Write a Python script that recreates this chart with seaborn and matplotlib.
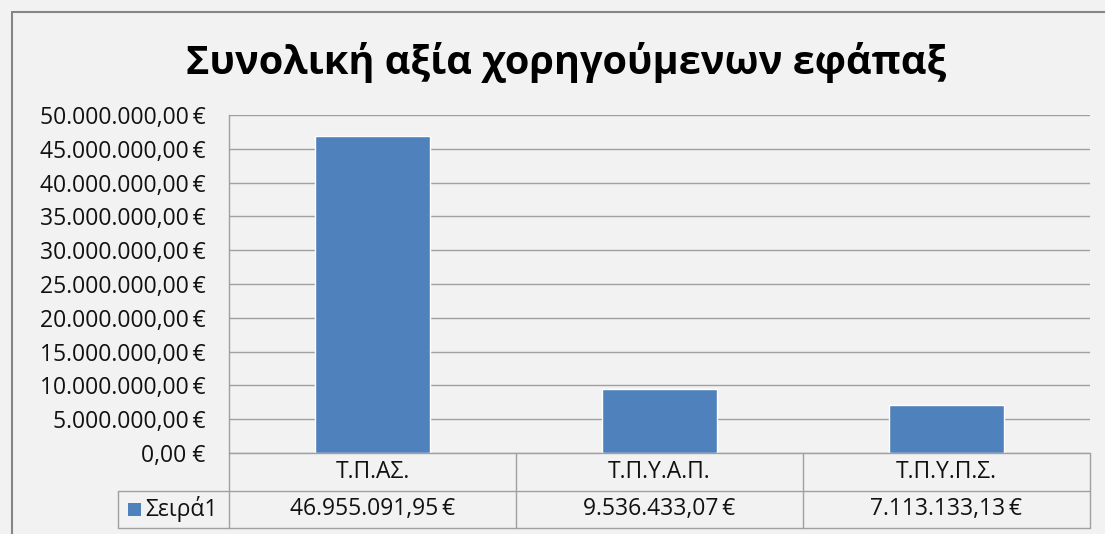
import matplotlib
matplotlib.use("Agg")
import matplotlib.pyplot as plt
import matplotlib.transforms as mtransforms
from matplotlib.lines import Line2D
from matplotlib.patches import Rectangle
import seaborn as sns

# data
categories = ["Τ.Π.ΑΣ.", "Τ.Π.Υ.Α.Π.", "Τ.Π.Υ.Π.Σ."]
values = [46955091.95, 9536433.07, 7113133.13]
series_name = "Σειρά1"
title = "Συνολική αξία χορηγούμενων εφάπαξ"
y_ticks = [0, 5e6, 10e6, 15e6, 20e6, 25e6, 30e6, 35e6, 40e6, 45e6, 50e6]

BG = "#f2f2f2"
BAR = "#4f81bd"
GRID = "#a0a0a0"
BORDER = "#868686"
TXT = "#111111"
FS = 16.5

sns.set_theme(style="white")
plt.rcParams["font.family"] = ["Open Sans", "DejaVu Sans"]


def euro(v):
    s = f"{v:,.2f}"
    s = s.replace(",", "X").replace(".", ",").replace("X", ".")
    return s + "\u2009€"


W, H = 1105, 534
fig = plt.figure(figsize=(W / 100, H / 100), dpi=100, facecolor=BG)

# plot area in pixels
left, top, right, bottom = 229, 115, 1090, 453
ax = fig.add_axes([left / W, 1 - bottom / H, (right - left) / W, (bottom - top) / H])
ax.set_facecolor(BG)

sns.barplot(x=categories, y=values, color=BAR, width=0.4, saturation=1, ax=ax)
ax.set_xlim(-0.5, len(categories) - 0.5)
ax.set_ylim(0, 50e6)
ax.set_yticks(y_ticks)
ax.set_yticklabels([euro(t) if t else "0,00 €" for t in y_ticks], fontsize=FS, color=TXT)
ax.tick_params(axis="y", length=0, pad=17)
ax.set_xticks([])
ax.set_xlabel("")
ax.set_ylabel("")
ax.yaxis.grid(True, color=GRID, linewidth=1)
ax.set_axisbelow(True)
for side in ["top", "right", "bottom"]:
    ax.spines[side].set_visible(False)
ax.spines["left"].set_color(GRID)
ax.spines["left"].set_linewidth(1)

# data table under the plot
pw = right - left
ph = bottom - top
row1 = -38 / ph
row2 = -75 / ph
leg_left = (118 - left) / pw
trans = mtransforms.blended_transform_factory(ax.transData, ax.transAxes)
tax = ax.transAxes


def line(xs, ys, transform):
    ax.add_line(Line2D(xs, ys, transform=transform, color=GRID, linewidth=1, clip_on=False))


line([0, 1], [0, 0], tax)
line([leg_left, 1], [row1, row1], tax)
line([leg_left, 1], [row2, row2], tax)
line([leg_left, leg_left], [row1, row2], tax)
for i in range(len(categories) + 1):
    line([i - 0.5, i - 0.5], [0, row2], trans)

mid2 = (row1 + row2) / 2
for i, (c, v) in enumerate(zip(categories, values)):
    ax.text(i, row1 / 2, c, transform=trans, ha="center", va="center", fontsize=FS, color=TXT)
    ax.text(i, mid2, euro(v), transform=trans, ha="center", va="center", fontsize=FS, color=TXT)

sq = 13
ax.add_patch(Rectangle((leg_left + 10 / pw, mid2 - sq / 2 / ph), sq / pw, sq / ph,
                       transform=tax, facecolor=BAR, edgecolor="none", clip_on=False))
ax.text(leg_left + 27 / pw, mid2, series_name, transform=tax,
        ha="left", va="center", fontsize=FS, color=TXT)

# outer chart border
fig.add_artist(Line2D([12 / W, 1], [1 - 12 / H, 1 - 12 / H], transform=fig.transFigure,
                      color=BORDER, linewidth=1.5))
fig.add_artist(Line2D([12 / W, 12 / W], [0, 1 - 12 / H], transform=fig.transFigure,
                      color=BORDER, linewidth=1.5))

fig.text(566 / W, 1 - 62 / H, title, ha="center", va="center", fontsize=28.5,
         fontweight="bold", color="#000000")

fig.savefig("out.png", dpi=100, facecolor=BG)
